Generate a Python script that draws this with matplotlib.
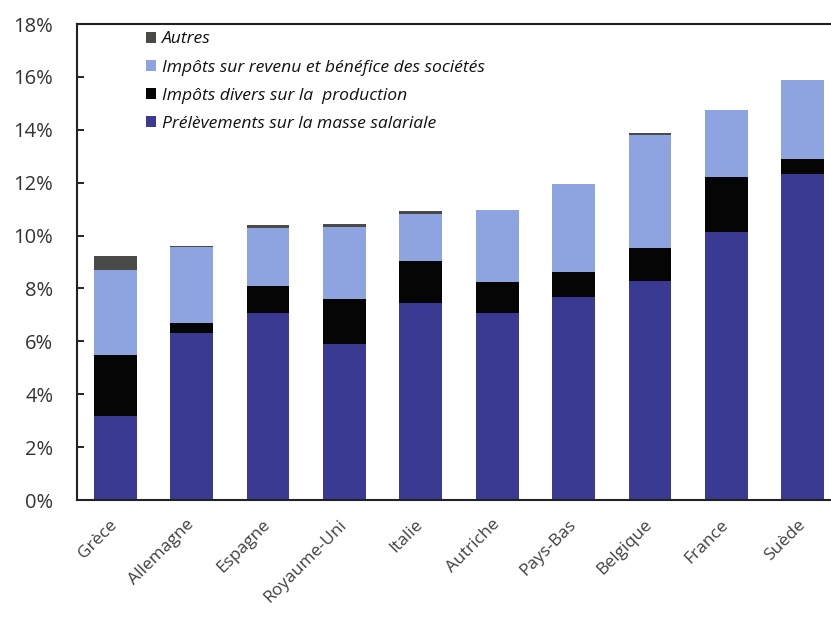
import matplotlib
matplotlib.use("Agg")
import matplotlib.pyplot as plt
import numpy as np
from matplotlib.ticker import FuncFormatter

countries = ["Grèce", "Allemagne", "Espagne", "Royaume-Uni", "Italie",
             "Autriche", "Pays-Bas", "Belgique", "France", "Suède"]
masse_salariale = [3.18, 6.33, 7.08, 5.89, 7.46, 7.08, 7.67, 8.27, 10.14, 12.33]
impots_production = [2.31, 0.38, 1.00, 1.71, 1.58, 1.15, 0.97, 1.25, 2.09, 0.57]
impots_revenu = [3.19, 2.87, 2.19, 2.71, 1.79, 2.75, 3.32, 4.29, 2.52, 2.97]
autres = [0.55, 0.02, 0.12, 0.11, 0.09, 0.0, 0.0, 0.08, 0.0, 0.0]

series_labels = ["Prélèvements sur la masse salariale",
                 "Impôts divers sur la  production",
                 "Impôts sur revenu et bénéfice des sociétés",
                 "Autres"]
colors = ["#3a3a92", "#050505", "#8ea4e0", "#4a4a48"]

plt.rcParams['font.family'] = ['Open Sans', 'DejaVu Sans']

fig = plt.figure(figsize=(8.31, 6.17), dpi=100)
ax = fig.add_axes([77/831, 1 - 500/617, 1 - 77/831, (500 - 24)/617])

x = np.arange(len(countries))
width = 0.56
bottom = np.zeros(len(countries))
handles = []
for vals, lab, col in zip([masse_salariale, impots_production, impots_revenu, autres],
                          series_labels, colors):
    b = ax.bar(x, vals, width, bottom=bottom, color=col, label=lab, linewidth=0)
    handles.append(b)
    bottom += np.array(vals)

ax.set_xlim(-0.5, 9.37)
ax.set_ylim(0, 18)
ax.set_yticks(np.arange(0, 19, 2))
ax.yaxis.set_major_formatter(FuncFormatter(lambda v, p: f"{int(v)}%"))
ax.tick_params(axis='y', direction='in', length=5, width=1.2, labelsize=14.5,
               labelcolor="#333333", pad=17)
ax.tick_params(axis='x', length=0, labelsize=12.5, labelcolor="#404040", pad=16)
ax.set_xticks(x)
ax.set_xticklabels(countries, rotation=45, ha='right', va='center',
                   rotation_mode='anchor')

for s in ['left', 'top', 'bottom']:
    ax.spines[s].set_linewidth(1.5)
    ax.spines[s].set_color('#222222')
ax.spines['right'].set_visible(False)

leg = ax.legend(handles[::-1], series_labels[::-1], loc='upper left',
                bbox_to_anchor=(0.075, 1.01), frameon=False,
                prop={'style': 'italic', 'size': 12.6},
                handlelength=0.6, handleheight=0.6, handletextpad=0.3,
                labelspacing=0.69, borderpad=0.2)
for t in leg.get_texts():
    t.set_color('#111111')

fig.savefig("out.png", dpi=100)
